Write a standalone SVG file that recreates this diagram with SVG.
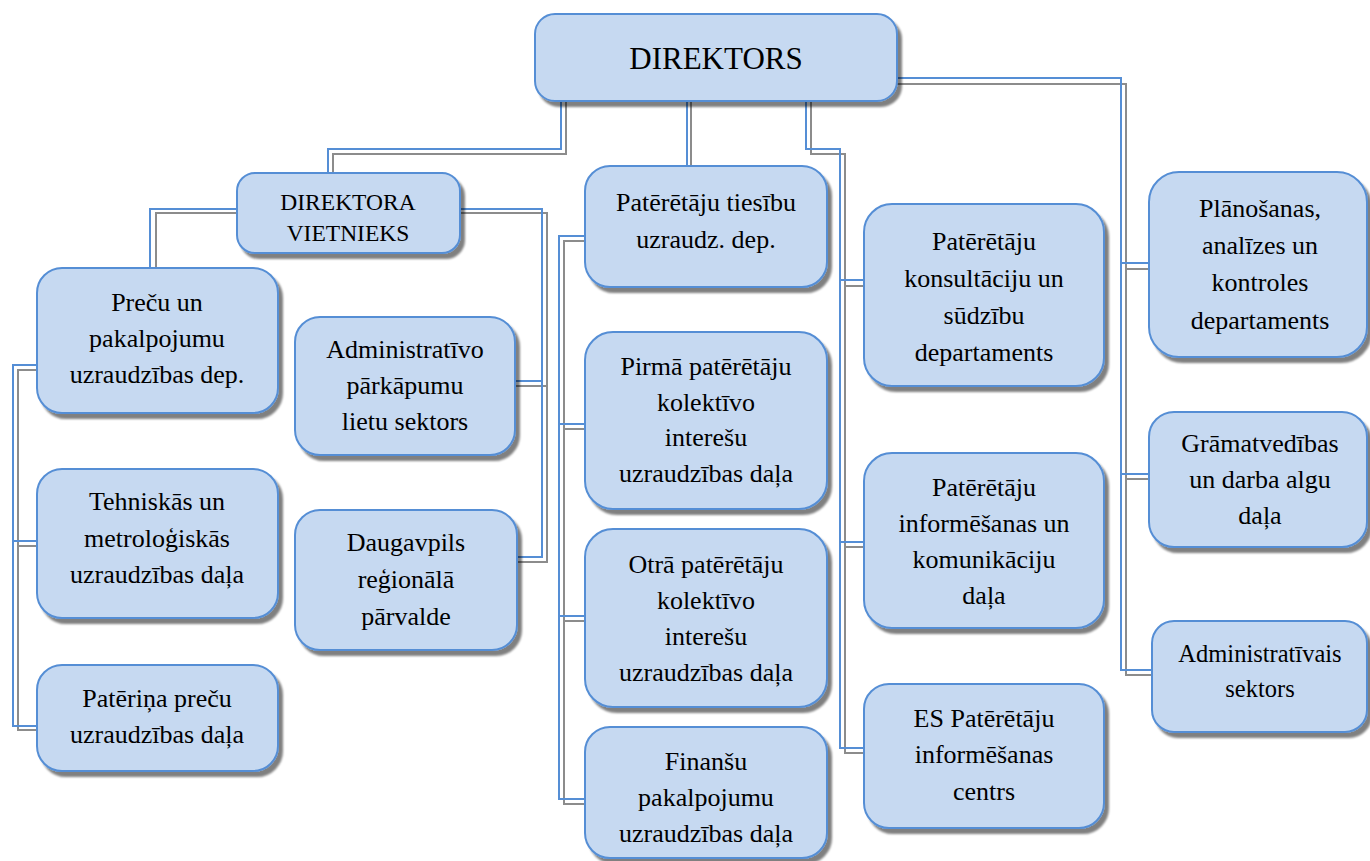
<svg xmlns="http://www.w3.org/2000/svg" width="1370" height="861" viewBox="0 0 1370 861">
<style>
.box{fill:#c6d9f1;stroke:#558ed5;stroke-width:2;filter:url(#ds)}
.t{font-size:26px;fill:#000;text-anchor:middle}
.big{font-size:31px}
.mid{font-size:23.5px}
.adm{font-size:24.5px}
.cb{fill:none;stroke:#558ed5;stroke-width:2}
.cg{fill:none;stroke:#8c8c8c;stroke-width:2}
</style>
<defs>
<filter id="ds" x="-10%" y="-10%" width="130%" height="130%">
<feGaussianBlur in="SourceAlpha" stdDeviation="0.8"/>
<feOffset dx="4" dy="5" result="o"/>
<feComponentTransfer><feFuncA type="linear" slope="0.5"/></feComponentTransfer>
<feMerge><feMergeNode/><feMergeNode in="SourceGraphic"/></feMerge>
</filter>
</defs>
<rect width="1370" height="861" fill="#fff"/>
<g id="connectors">
<g class="cg">
<path d="M566,101 V154 H333 V173"/>
<path d="M691,101 V166"/>
<path d="M811,101 V154 H845 V753 H864 M845,286 H864 M845,547 H864"/>
<path d="M897,84 H1126 V675 H1152 M1126,269 H1149 M1126,479 H1149"/>
<path d="M460,213 H547 V562 H517 M547,386 H515"/>
<path d="M237,213 H156 V268"/>
<path d="M37,370 H18 V730 H37 M18,546 H37"/>
<path d="M585,241 H564 V804 H585 M564,429 H585 M564,621 H585"/>
</g>
<g class="cb">
<path d="M561,101 V149 H328 V173"/>
<path d="M687,101 V166"/>
<path d="M806,101 V149 H840 V748 H864 M840,280 H864 M840,542 H864"/>
<path d="M897,78 H1121 V670 H1152 M1121,263 H1149 M1121,474 H1149"/>
<path d="M460,209 H542 V557 H517 M542,381 H515"/>
<path d="M237,209 H150 V268"/>
<path d="M37,365 H13 V726 H37 M13,541 H37"/>
<path d="M585,236 H559 V799 H585 M559,424 H585 M559,616 H585"/>
</g>
</g>
<g font-family="Liberation Serif, Times New Roman, serif">
<g id="direktors"><rect class="box" x="535" y="14" width="362" height="87" rx="20"/><text class="t big" x="716" y="69">DIREKTORS</text></g>
<g id="vietnieks"><rect class="box" x="237" y="173" width="223" height="80" rx="18"/><text class="t mid"><tspan x="348" y="210">DIREKTORA</tspan><tspan x="348" y="241">VIETNIEKS</tspan></text></g>
<g id="precu"><rect class="box" x="37" y="268" width="241" height="145" rx="25"/><text class="t"><tspan x="157" y="311">Preču un</tspan><tspan x="157" y="347">pakalpojumu</tspan><tspan x="157" y="383">uzraudzības dep.</tspan></text></g>
<g id="tehniskas"><rect class="box" x="37" y="469" width="241" height="149" rx="25"/><text class="t"><tspan x="157" y="510">Tehniskās un</tspan><tspan x="157" y="547">metroloģiskās</tspan><tspan x="157" y="583">uzraudzības daļa</tspan></text></g>
<g id="paterina"><rect class="box" x="37" y="665" width="241" height="106" rx="25"/><text class="t"><tspan x="157" y="707">Patēriņa preču</tspan><tspan x="157" y="743">uzraudzības daļa</tspan></text></g>
<g id="administrativo"><rect class="box" x="295" y="317" width="220" height="138" rx="25"/><text class="t"><tspan x="405" y="358">Administratīvo</tspan><tspan x="405" y="394">pārkāpumu</tspan><tspan x="405" y="430">lietu sektors</tspan></text></g>
<g id="daugavpils"><rect class="box" x="295" y="510" width="222" height="140" rx="25"/><text class="t"><tspan x="406" y="551">Daugavpils</tspan><tspan x="406" y="588">reģionālā</tspan><tspan x="406" y="625">pārvalde</tspan></text></g>
<g id="pt-tiesibu"><rect class="box" x="585" y="166" width="242" height="121" rx="25"/><text class="t"><tspan x="706" y="211">Patērētāju tiesību</tspan><tspan x="706" y="248">uzraudz. dep.</tspan></text></g>
<g id="pirma"><rect class="box" x="585" y="332" width="242" height="177" rx="28"/><text class="t"><tspan x="706" y="375">Pirmā patērētāju</tspan><tspan x="706" y="411">kolektīvo</tspan><tspan x="706" y="446">interešu</tspan><tspan x="706" y="482">uzraudzības daļa</tspan></text></g>
<g id="otra"><rect class="box" x="585" y="529" width="242" height="178" rx="28"/><text class="t"><tspan x="706" y="573">Otrā patērētāju</tspan><tspan x="706" y="609">kolektīvo</tspan><tspan x="706" y="645">interešu</tspan><tspan x="706" y="681">uzraudzības daļa</tspan></text></g>
<g id="finansu"><rect class="box" x="585" y="727" width="242" height="131" rx="25"/><text class="t"><tspan x="706" y="770">Finanšu</tspan><tspan x="706" y="806">pakalpojumu</tspan><tspan x="706" y="842">uzraudzības daļa</tspan></text></g>
<g id="konsultaciju"><rect class="box" x="864" y="204" width="240" height="182" rx="28"/><text class="t"><tspan x="984" y="250">Patērētāju</tspan><tspan x="984" y="287">konsultāciju un</tspan><tspan x="984" y="324">sūdzību</tspan><tspan x="984" y="361">departaments</tspan></text></g>
<g id="informesanas"><rect class="box" x="864" y="453" width="240" height="175" rx="28"/><text class="t"><tspan x="984" y="496">Patērētāju</tspan><tspan x="984" y="532">informēšanas un</tspan><tspan x="984" y="568">komunikāciju</tspan><tspan x="984" y="604">daļa</tspan></text></g>
<g id="es-centrs"><rect class="box" x="864" y="684" width="240" height="144" rx="25"/><text class="t"><tspan x="984" y="727">ES Patērētāju</tspan><tspan x="984" y="763">informēšanas</tspan><tspan x="984" y="800">centrs</tspan></text></g>
<g id="planosanas"><rect class="box" x="1149" y="172" width="218" height="185" rx="30"/><text class="t"><tspan x="1260" y="217">Plānošanas,</tspan><tspan x="1260" y="254">analīzes un</tspan><tspan x="1260" y="291">kontroles</tspan><tspan x="1260" y="329">departaments</tspan></text></g>
<g id="gramatvedibas"><rect class="box" x="1149" y="412" width="218" height="135" rx="25"/><text class="t"><tspan x="1260" y="452">Grāmatvedības</tspan><tspan x="1260" y="488">un darba algu</tspan><tspan x="1260" y="524">daļa</tspan></text></g>
<g id="administrativais"><rect class="box" x="1152" y="621" width="215" height="111" rx="22"/><text class="t adm"><tspan x="1260" y="662">Administratīvais</tspan><tspan x="1260" y="697">sektors</tspan></text></g>
</g>
</svg>
